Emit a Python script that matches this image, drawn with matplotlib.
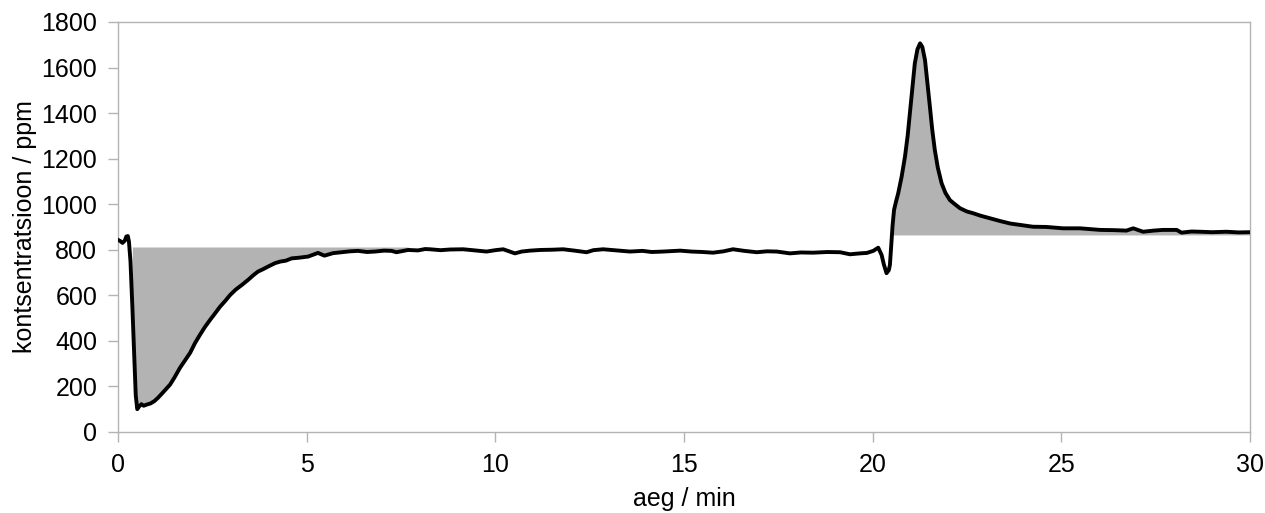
import matplotlib.pyplot as plt
import numpy as np

# time (min) and concentration (ppm)
time_min = [0.00, 0.06, 0.12, 0.18, 0.22, 0.26, 0.29, 0.33, 0.38, 0.43, 0.47, 0.51,
            0.56, 0.62, 0.68, 0.76, 0.86, 0.96, 1.06, 1.20, 1.38, 1.50, 1.64, 1.78,
            1.91, 2.04, 2.17, 2.30, 2.44, 2.57, 2.70, 2.84, 2.97, 3.12, 3.28, 3.45,
            3.60, 3.71, 3.85, 4.00, 4.16, 4.30, 4.45, 4.60, 4.80, 5.04, 5.30, 5.47,
            5.70, 5.93, 6.15, 6.36, 6.60, 6.81, 7.05, 7.25, 7.38, 7.69, 7.95, 8.14,
            8.27, 8.55, 8.80, 9.15, 9.45, 9.77, 10.00, 10.21, 10.52, 10.70, 10.92,
            11.20, 11.50, 11.80, 12.10, 12.42, 12.60, 12.86, 13.20, 13.57, 13.90,
            14.15, 14.45, 14.90, 15.20, 15.50, 15.77, 16.05, 16.30, 16.60, 16.93,
            17.20, 17.46, 17.81, 18.10, 18.42, 18.80, 19.14, 19.40, 19.67, 19.85,
            20.02, 20.15, 20.24, 20.30, 20.37, 20.43, 20.46, 20.50, 20.53, 20.57,
            20.62, 20.68, 20.77, 20.86, 20.93, 20.99, 21.06, 21.12, 21.19, 21.26,
            21.32, 21.39, 21.45, 21.52, 21.58, 21.65, 21.73, 21.83, 21.93, 22.05,
            22.18, 22.32, 22.50, 22.67, 22.85, 23.11, 23.38, 23.65, 23.91, 24.25,
            24.61, 25.05, 25.50, 26.03, 26.40, 26.73, 26.91, 27.17, 27.45, 27.70,
            28.06, 28.19, 28.45, 28.68, 29.00, 29.38, 29.70, 30.00]
conc_ppm = [843, 838, 830, 840, 858, 860, 835, 750, 550, 330, 160, 100,
            112, 122, 115, 120, 125, 135, 150, 175, 208, 240, 281, 315,
            347, 390, 426, 460, 492, 520, 549, 575, 601, 625, 645, 668,
            690, 704, 715, 728, 741, 748, 752, 762, 765, 770, 786, 774,
            785, 789, 793, 795, 790, 792, 796, 795, 789, 799, 797, 803,
            802, 798, 801, 802, 797, 792, 798, 802, 784, 792, 796,
            799, 800, 802, 796, 789, 798, 802, 797, 792, 795,
            790, 792, 796, 792, 790, 787, 793, 802, 795, 789,
            793, 792, 784, 788, 787, 790, 789, 780, 784, 786,
            795, 809, 777, 735, 697, 710, 733, 830, 905, 975,
            1010, 1048, 1120, 1209, 1300, 1399, 1510, 1618, 1680, 1706,
            1690, 1633, 1540, 1428, 1330, 1238, 1160, 1092, 1050, 1018,
            1000, 982, 968, 960, 950, 938, 926, 915, 909, 901,
            900, 894, 894, 887, 886, 884, 894, 879, 884, 887,
            887, 875, 880, 879, 877, 879, 876, 877]

# integration windows: (start, end, baseline)
dip_window = (0.35, 7.7, 812)
peak_window = (20.53, 30.0, 865)

t = np.array(time_min)
c = np.array(conc_ppm)
fonts = ['Liberation Sans', 'DejaVu Sans']

fig = plt.figure(figsize=(12.65, 5.13), dpi=100)
ax = fig.add_axes([0.0933, 0.158, 0.8947, 0.7992])

for start, end, base in (dip_window, peak_window):
    m = (t >= start) & (t <= end)
    ax.fill_between(t[m], c[m], base, color='#b3b3b3', linewidth=0, zorder=1)

ax.plot(t, c, color='black', linewidth=2.8, solid_joinstyle='round', zorder=3)

ax.set_xlim(0, 30)
ax.set_ylim(0, 1800)
ax.set_xticks(np.arange(0, 31, 5))
ax.set_yticks(np.arange(0, 1801, 200))

for s in ax.spines.values():
    s.set_color('#b3b3b3')
    s.set_linewidth(1)
ax.tick_params(direction='out', length=7, width=1, color='#b3b3b3',
               labelsize=18, pad=8)
for lbl in ax.get_xticklabels() + ax.get_yticklabels():
    lbl.set_family(fonts)

ax.set_xlabel('aeg / min', fontsize=18, family=fonts, labelpad=7)
ax.set_ylabel('kontsentratsioon / ppm', fontsize=18, family=fonts, labelpad=3)

fig.savefig('out.png', dpi=100)
